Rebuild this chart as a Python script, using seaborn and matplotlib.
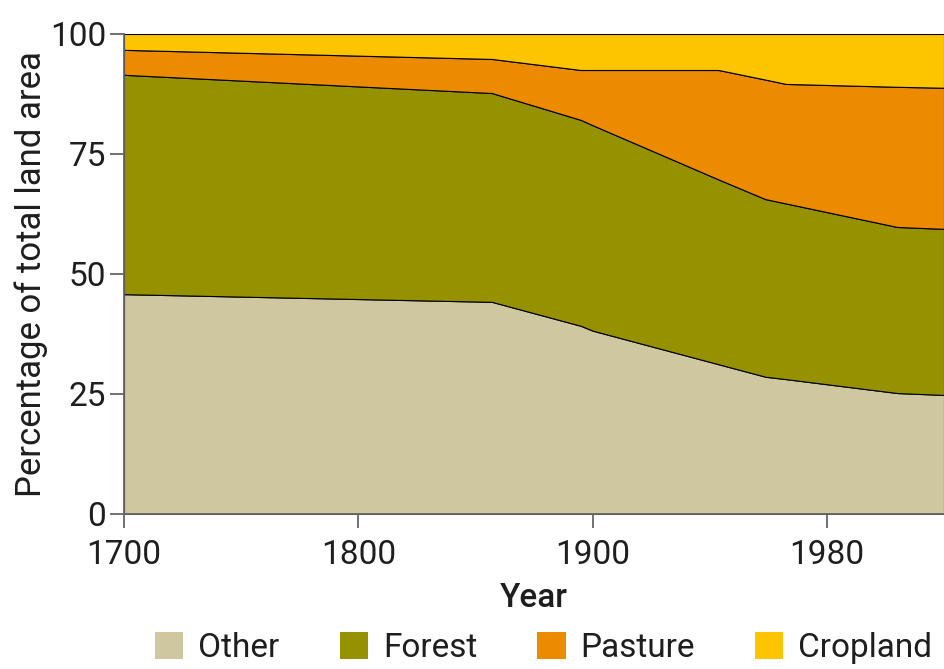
import numpy as np
import pandas as pd
import matplotlib
matplotlib.use("Agg")
import matplotlib.pyplot as plt
from matplotlib.patches import Patch
from matplotlib.scale import FuncScale
import seaborn as sns

# Land use as share of total land area
years = [1700, 1857, 1895, 1900, 1943, 1959, 1966, 2004, 2020]
other = [45.8, 44.2, 39.2, 38.2, 31.2, 28.6, 28.1, 25.2, 24.8]
forest = [45.7, 43.5, 42.9, 42.8, 38.5, 37.0, 36.6, 34.6, 34.6]
pasture = [5.2, 7.1, 10.4, 11.5, 22.8, 24.9, 24.9, 29.2, 29.4]
cropland = [3.3, 5.2, 7.5, 7.5, 7.5, 9.5, 10.4, 11.0, 11.2]

categories = ["Other", "Forest", "Pasture", "Cropland"]
colors = ["#cfc7a0", "#969100", "#ec8a00", "#fdc500"]
tick_years = [1700, 1800, 1900, 1980]

df = pd.DataFrame({"Year": years, "Other": other, "Forest": forest,
                   "Pasture": pasture, "Cropland": cropland})

sns.set_theme(style="ticks")
plt.rcParams["font.family"] = ["Roboto", "DejaVu Sans"]

# x axis: tick years are evenly spaced, so use a piecewise scale
tick_pos = np.arange(len(tick_years), dtype=float)


def fwd(x):
    x = np.asarray(x, dtype=float)
    p = np.interp(x, tick_years, tick_pos)
    p = np.where(x > tick_years[-1], tick_pos[-1] + (x - tick_years[-1]) / 80.0, p)
    p = np.where(x < tick_years[0], (x - tick_years[0]) / 100.0, p)
    return p


def inv(p):
    p = np.asarray(p, dtype=float)
    x = np.interp(p, tick_pos, tick_years)
    x = np.where(p > tick_pos[-1], tick_years[-1] + (p - tick_pos[-1]) * 80.0, x)
    x = np.where(p < 0, tick_years[0] + p * 100.0, x)
    return x


fig = plt.figure(figsize=(9.44, 6.69), dpi=100)
ax = fig.add_axes([124 / 944, 1 - 514 / 669, 820 / 944, 480 / 669])
ax.set_xscale(FuncScale(ax, (fwd, inv)))

ax.stackplot(df["Year"], df["Other"], df["Forest"], df["Pasture"], df["Cropland"],
             colors=colors, edgecolor="black", linewidth=0.8)

ax.set_xlim(1700, 2020)
ax.set_ylim(0, 100)
ax.set_xticks(tick_years)
ax.set_xticklabels([str(y) for y in tick_years])
ax.set_yticks([0, 25, 50, 75, 100])

txt = "#1e1e1e"
ax.tick_params(axis="both", labelsize=24, colors="#666666", labelcolor=txt,
               length=10, width=1.3)
ax.tick_params(axis="x", pad=8)
ax.tick_params(axis="y", pad=3)
ax.set_xlabel("Year", fontsize=24, fontweight="medium", color=txt, labelpad=8)
ax.set_ylabel("Percentage of total land area", fontsize=25, color=txt, labelpad=1)

sns.despine(ax=ax, top=True, right=True)
for s in ["left", "bottom"]:
    ax.spines[s].set_color("#666666")
    ax.spines[s].set_linewidth(1.3)

handles = [Patch(facecolor=c, edgecolor="none", label=n) for c, n in zip(colors, categories)]
fig.legend(handles=handles, loc="lower center", bbox_to_anchor=(0.576, -0.037), ncol=4,
           frameon=False, fontsize=24, handlelength=0.85, handleheight=0.85,
           handletextpad=0.45, columnspacing=1.8, labelcolor=txt)

fig.savefig("out.png", dpi=100)
